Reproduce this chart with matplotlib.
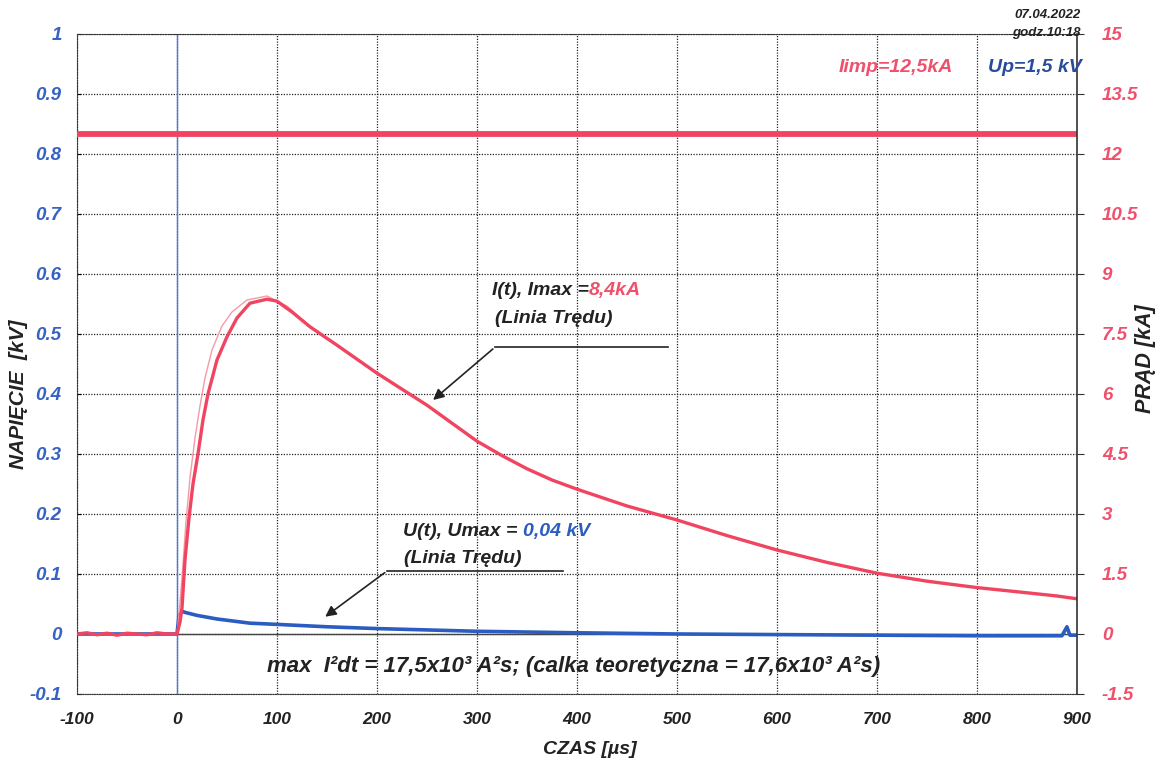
import matplotlib
matplotlib.use('Agg')
import matplotlib.pyplot as plt

plt.rcParams['font.family'] = ['Liberation Sans', 'DejaVu Sans']

# current trend line I(t) [kA]
t_i = [-100, -90, -80, -70, -60, -50, -40, -30, -20, -10, 0, 3, 5, 8, 12, 16, 21, 26, 31, 40,
       50, 60, 73, 90, 100, 115, 133, 160, 200, 250, 300, 325, 350, 375, 400, 450, 500, 550,
       600, 650, 700, 750, 800, 850, 880, 900]
i_trend = [0.0, 0.03, -0.02, 0.02, -0.03, 0.02, 0.0, -0.02, 0.03, 0.0, 0.0, 0.3, 0.65, 1.85, 2.9,
           3.75, 4.5, 5.35, 6.0, 6.85, 7.43, 7.9, 8.27, 8.37, 8.32, 8.05, 7.68, 7.22, 6.52,
           5.72, 4.82, 4.46, 4.13, 3.85, 3.62, 3.2, 2.85, 2.46, 2.1, 1.79, 1.52, 1.32, 1.16,
           1.03, 0.95, 0.88]

# raw current record (thin trace), only where it separates from the trend
t_raw = [0, 2, 5, 9, 13, 18, 23, 28, 35, 45, 55, 70, 90, 110, 130]
i_raw = [0.0, 0.5, 1.4, 2.8, 3.9, 4.9, 5.7, 6.4, 7.1, 7.7, 8.05, 8.35, 8.45, 8.2, 7.75]

# voltage trend line U(t) [kV]
t_u = [-100, -50, 0, 2, 5, 8, 20, 40, 73, 100, 150, 200, 300, 400, 500, 600, 700,
       800, 885, 890, 893, 900]
u_trend = [0.0, 0.0, 0.0, 0.03, 0.038, 0.036, 0.031, 0.025, 0.018, 0.016, 0.012, 0.009,
           0.0045, 0.002, 0.0, -0.001, -0.002, -0.003, -0.003, 0.012, -0.002, -0.002]

# protection level (Iimp) line [kA]
t_imp = [-100, 900]
i_imp = [12.5, 12.5]

u_ticks = [-0.1, 0, 0.1, 0.2, 0.3, 0.4, 0.5, 0.6, 0.7, 0.8, 0.9, 1]
u_labels = ['-0.1', '0', '0.1', '0.2', '0.3', '0.4', '0.5', '0.6', '0.7', '0.8', '0.9', '1']
i_ticks = [-1.5, 0, 1.5, 3, 4.5, 6, 7.5, 9, 10.5, 12, 13.5, 15]
i_labels = ['-1.5', '0', '1.5', '3', '4.5', '6', '7.5', '9', '10.5', '12', '13.5', '15']
t_ticks = [-100, 0, 100, 200, 300, 400, 500, 600, 700, 800, 900]

RED = '#f04460'
RED_LIGHT = '#f59aa8'
BLUE = '#2b5cc0'
BLUE_TXT = '#3562c4'
BLUE_DARK = '#284c9c'
RED_TXT = '#f0506c'

fig = plt.figure(figsize=(11.63, 7.67), dpi=100)
ax = fig.add_axes([0.0662, 0.0952, 0.8598, 0.8605])
ax2 = ax.twinx()

ax.set_xlim(-100, 900)
ax.set_ylim(-0.1, 1)
ax2.set_ylim(-1.5, 15)

ax.set_xticks(t_ticks)
ax.set_xticklabels([str(v) for v in t_ticks], fontsize=12.5, fontstyle='italic',
                   fontweight='bold', color='#222222')
ax.set_yticks(u_ticks)
ax.set_yticklabels(u_labels, fontsize=13.5, fontstyle='italic', fontweight='bold', color=BLUE_TXT)
ax2.set_yticks(i_ticks)
ax2.set_yticklabels(i_labels, fontsize=13.5, fontstyle='italic', fontweight='bold', color=RED_TXT)

ax.tick_params(axis='x', length=0, pad=13)
ax.tick_params(axis='y', length=3, direction='in', pad=11)
ax2.tick_params(axis='y', length=5, direction='out', pad=13, color='#333333')

ax.grid(True, color='#222222', linestyle=(0, (1, 1.2)), linewidth=0.9)
for side in ['left', 'top', 'bottom']:
    ax.spines[side].set_linestyle((0, (1, 1.2)))
    ax.spines[side].set_color('#333333')
    ax2.spines[side].set_visible(False)
ax.spines['right'].set_visible(False)
ax2.spines['right'].set_color('#333333')
ax2.spines['right'].set_linewidth(1.2)

# reference lines: trigger instant and zero level
ax.axvline(0, color='#4a78e0', linewidth=1.0)
ax.plot([0, 900], [0, 0], color='#444444', linewidth=1.0)

# voltage
ax.plot(t_u, u_trend, color=BLUE, linewidth=2.6, solid_capstyle='round')

# current
ax2.plot(t_imp, i_imp, color=RED, linewidth=4.2)
ax2.plot(t_raw, i_raw, color=RED_LIGHT, linewidth=1.0)
ax2.plot(t_i, i_trend, color=RED, linewidth=2.4)

txt = dict(fontstyle='italic', fontweight='bold', fontsize=14)

# I(t) label with leader line
t1 = ax.text(315, 0.565, 'I(t), Imax =', color='#222222', va='baseline', **txt)
ax.annotate('8,4kA', xy=(1, 0), xycoords=t1, va='bottom', ha='left', color=RED_TXT, **txt)
ax.text(318, 0.518, '(Linia Trędu)', color='#222222', va='baseline', **txt)
ax.plot([318, 491], [0.478, 0.478], color='#222222', linewidth=1.2)
ax.annotate('', xy=(254, 0.387), xytext=(318, 0.478),
            arrowprops=dict(arrowstyle='-|>', color='#222222', lw=1.2, mutation_scale=16))

# U(t) label with leader line
t2 = ax.text(226, 0.163, 'U(t), Umax = ', color='#222222', va='baseline', **txt)
ax.annotate('0,04 kV', xy=(1, 0), xycoords=t2, va='bottom', ha='left', color=BLUE, **txt)
ax.text(227, 0.118, '(Linia Trędu)', color='#222222', va='baseline', **txt)
ax.plot([210, 386], [0.105, 0.105], color='#222222', linewidth=1.2)
ax.annotate('', xy=(146, 0.026), xytext=(210, 0.105),
            arrowprops=dict(arrowstyle='-|>', color='#222222', lw=1.2, mutation_scale=16))

# integral of I^2
ax.text(90, -0.055, 'max  I²dt = 17,5x10³ A²s; (calka teoretyczna = 17,6x10³ A²s)',
        color='#222222', va='center', ha='left', fontstyle='italic', fontweight='bold',
        fontsize=16)

# levels and timestamp
fig.text(839 / 1163, 1 - 67 / 767, 'Iimp=12,5kA', color=RED_TXT, va='center', ha='left', **txt)
fig.text(1082 / 1163, 1 - 67 / 767, 'Up=1,5 kV', color=BLUE_DARK, va='center', ha='right', **txt)
fig.text(1081 / 1163, 1 - 15 / 767, '07.04.2022', color='#222222', va='center', ha='right',
         fontstyle='italic', fontweight='bold', fontsize=9.5)
fig.text(1081 / 1163, 1 - 33 / 767, 'godz.10:18', color='#222222', va='center', ha='right',
         fontstyle='italic', fontweight='bold', fontsize=9.5)

# axis titles
fig.text(19 / 1163, 1 - 394 / 767, 'NAPIĘCIE  [kV]', rotation=90, va='center', ha='center',
         color='#222222', fontstyle='italic', fontweight='bold', fontsize=15)
fig.text(1146 / 1163, 1 - 359 / 767, 'PRĄD [kA]', rotation=90, va='center', ha='center',
         color='#222222', fontstyle='italic', fontweight='bold', fontsize=15.5)
fig.text(590 / 1163, 1 - 750 / 767, 'CZAS [µs]', va='center', ha='center',
         color='#222222', fontstyle='italic', fontweight='bold', fontsize=14)

fig.savefig('out.png', dpi=100)
